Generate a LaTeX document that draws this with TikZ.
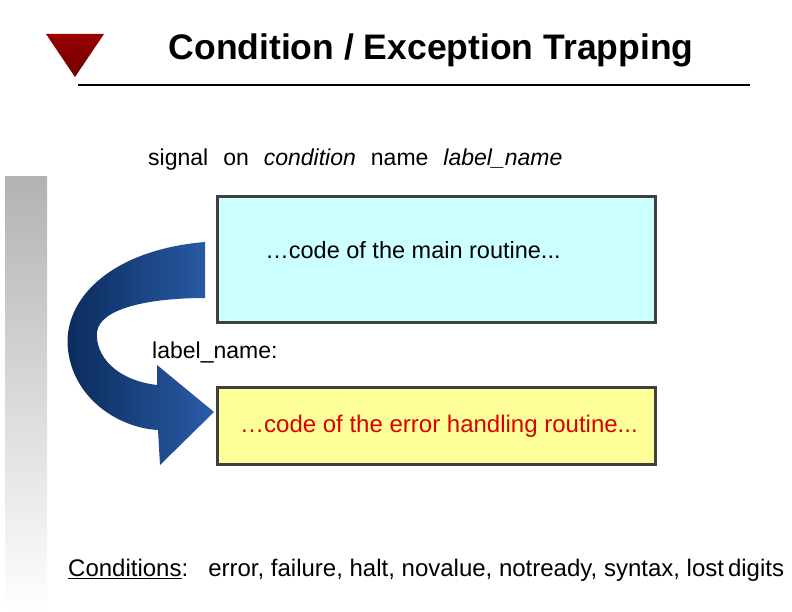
\documentclass[tikz,border=0pt]{standalone}
\usepackage{fontspec}
\setmainfont{Liberation Sans}
\definecolor{cy}{HTML}{CCFFFF}
\definecolor{ye}{HTML}{FFFF99}
\definecolor{ar1}{HTML}{0A2A5A}
\definecolor{ar2}{HTML}{2A5CA8}
\begin{document}
\begin{tikzpicture}[x=1pt,y=-1pt,
  box/.style={draw=black!75,line width=3pt},
  txt/.style={font=\fontsize{23}{27}\selectfont,anchor=west,inner sep=0pt}]
\useasboundingbox (0,0) rectangle (792,612);
\fill[top color=black!30,bottom color=white] (5,177) rectangle (47,612);
\shade[top color=red!60!black,bottom color=red!45!black] (46,34) -- (104,34) -- (75,77) -- cycle;
\node[inner sep=0pt,font=\bfseries\fontsize{35.5}{40}\selectfont] (title) at (431,50) {Condition / Exception Trapping};
\coordinate (l1) at (78,85); \coordinate (l2) at (750,85);
\draw[line width=2.5pt] (l1) -- (l2);
\node[txt] (sig) at (148,160) {signal\hspace{15pt}on\hspace{15pt}\textit{condition}\hspace{15pt}name\hspace{15pt}\textit{label\_name}};
\node[box,fill=cy,minimum width=438pt,minimum height=126pt,anchor=north west] (main) at (216,195) {};
\node[inner sep=0pt,font=\fontsize{23.5}{27}\selectfont] (mt) at (413,250) {…code of the main routine...};
\node[txt] (lab) at (152,352) {label\_name:};
\node[box,fill=ye,minimum width=438pt,minimum height=77pt,anchor=north west] (err) at (216,386) {};
\node[txt,text=red!85!black,font=\fontsize{24}{28}\selectfont] (et) at (240,426) {…code of the error handling routine...};
\node[txt,font=\fontsize{24}{28}\selectfont] (cond) at (68,570) {\underline{Conditions}:\ \ \ error, failure, halt, novalue, notready, syntax, lost\,digits};
\shade[left color=ar1,right color=ar2]
 (205,242) .. controls (110,250) and (62,300) .. (68,350)
 .. controls (74,400) and (120,428) .. (158,430)
 -- (160,465) -- (214,412) -- (157,365) -- (157,385)
 .. controls (115,380) and (95,355) .. (97,332)
 .. controls (100,308) and (150,298) .. (205,298) -- cycle;
\end{tikzpicture}
\end{document}
